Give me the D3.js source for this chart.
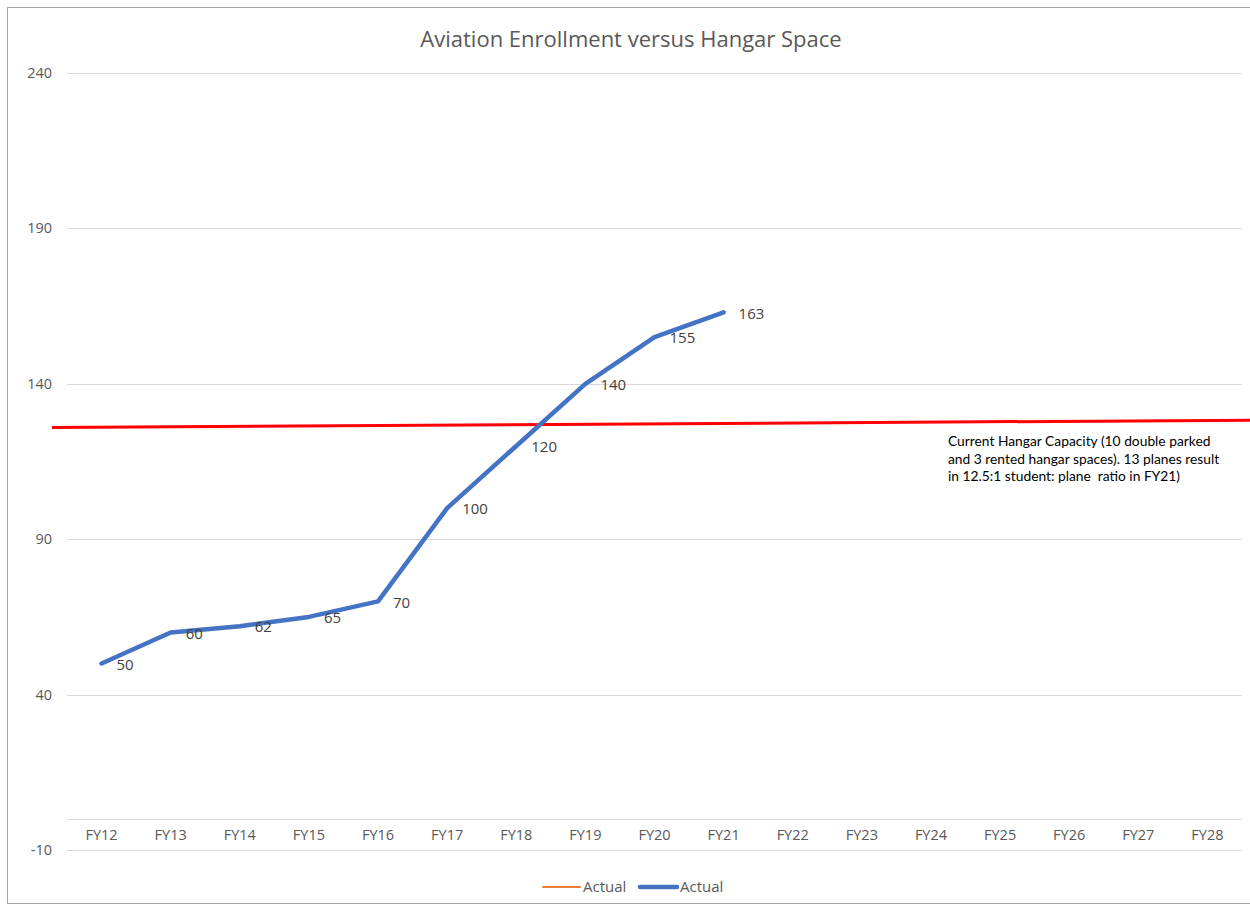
<!DOCTYPE html>
<html>
<head>
<meta charset="utf-8">
<script src="https://cdn.jsdelivr.net/npm/d3@7/dist/d3.min.js"></script>
<style>
  body { margin: 0; background: #fff; }
  svg { display: block; font-family: "Open Sans", "Noto Sans", sans-serif; }
  .note { white-space: pre; }
</style>
</head>
<body>
<svg id="chart" width="1250" height="909"></svg>
<script>
// data
var years = ["FY12", "FY13", "FY14", "FY15", "FY16", "FY17", "FY18", "FY19", "FY20",
             "FY21", "FY22", "FY23", "FY24", "FY25", "FY26", "FY27", "FY28"];
var enrollment = [50, 60, 62, 65, 70, 100, 120, 140, 155, 163];
var yTicks = [-10, 40, 90, 140, 190, 240];
var capacityLine = [125.9, 128.3]; // hand-drawn red line, left and right ends
var capacityNote = [
  "Current Hangar Capacity (10 double parked",
  "and 3 rented hangar spaces). 13 planes result",
  "in 12.5:1 student: plane  ratio in FY21)"
];
var legendItems = [
  { name: "Actual", color: "#ED7D31", width: 2 },
  { name: "Actual", color: "#4472C4", width: 4.5 }
];

var svg = d3.select("#chart");
var width = 1250, height = 909;
var margin = { top: 73, right: 8, bottom: 59, left: 67 };

// outer chart border
svg.append("rect")
  .attr("x", 7.5).attr("y", 7.5)
  .attr("width", width + 10).attr("height", height - 13)
  .attr("fill", "none")
  .attr("stroke", "#a6a6a6")
  .attr("stroke-width", 1);

var x = d3.scaleBand()
  .domain(years)
  .range([margin.left, width - margin.right]);

var y = d3.scaleLinear()
  .domain([-10, 240])
  .range([height - margin.bottom, margin.top]);

// title
svg.append("text")
  .attr("x", 631).attr("y", 47)
  .attr("text-anchor", "middle")
  .attr("font-size", 22)
  .attr("fill", "#595959")
  .text("Aviation Enrollment versus Hangar Space");

// gridlines
svg.append("g")
  .selectAll("line")
  .data(yTicks)
  .enter().append("line")
  .attr("x1", margin.left).attr("x2", width - margin.right)
  .attr("y1", d => Math.round(y(d)) + 0.5)
  .attr("y2", d => Math.round(y(d)) + 0.5)
  .attr("stroke", "#d9d9d9")
  .attr("stroke-width", 1);

// y labels
svg.append("g")
  .selectAll("text")
  .data(yTicks)
  .enter().append("text")
  .attr("x", 52)
  .attr("y", d => y(d))
  .attr("dy", "0.35em")
  .attr("text-anchor", "end")
  .attr("font-size", 14.5)
  .attr("fill", "#595959")
  .text(d => d);

// category axis crosses at 0
svg.append("line")
  .attr("x1", margin.left).attr("x2", width - margin.right)
  .attr("y1", Math.round(y(0)) + 0.5).attr("y2", Math.round(y(0)) + 0.5)
  .attr("stroke", "#d9d9d9")
  .attr("stroke-width", 1);

svg.append("g")
  .selectAll("text")
  .data(years)
  .enter().append("text")
  .attr("x", d => x(d) + x.bandwidth() / 2)
  .attr("y", (y(0) + y(-10)) / 2)
  .attr("dy", "0.35em")
  .attr("text-anchor", "middle")
  .attr("font-size", 14.5)
  .attr("fill", "#595959")
  .text(d => d);

// capacity line (drawn shape, extends past plot on both sides)
var capX = d3.scaleLinear().domain([0, 1]).range([margin.left - 15, width + 2]);
svg.append("line")
  .attr("x1", capX(0)).attr("x2", capX(1))
  .attr("y1", y(capacityLine[0])).attr("y2", y(capacityLine[1]))
  .attr("stroke", "#ff0000")
  .attr("stroke-width", 3);

svg.append("g")
  .selectAll("text")
  .data(capacityNote)
  .enter().append("text")
  .attr("class", "note")
  .attr("x", 948)
  .attr("y", (d, i) => 446 + i * 17.5)
  .attr("font-family", "Lato, 'Open Sans', sans-serif")
  .attr("font-size", 13.8)
  .attr("fill", "#000")
  .text(d => d);

// enrollment line
var line = d3.line()
  .x((d, i) => x(years[i]) + x.bandwidth() / 2)
  .y(d => y(d));

svg.append("path")
  .datum(enrollment)
  .attr("d", line)
  .attr("fill", "none")
  .attr("stroke", "#4472C4")
  .attr("stroke-width", 4.5)
  .attr("stroke-linejoin", "round")
  .attr("stroke-linecap", "round");

svg.append("g")
  .selectAll("text")
  .data(enrollment)
  .enter().append("text")
  .attr("x", (d, i) => x(years[i]) + x.bandwidth() / 2 + 15)
  .attr("y", d => y(d) + 1)
  .attr("dy", "0.35em")
  .attr("font-size", 15)
  .attr("fill", "#404040")
  .text(d => d);

// legend
var legend = svg.append("g").attr("transform", "translate(543,887)");
var lx = 0;
legendItems.forEach(function(item) {
  legend.append("line")
    .attr("x1", lx).attr("x2", lx + 37)
    .attr("y1", 0).attr("y2", 0)
    .attr("stroke", item.color)
    .attr("stroke-width", item.width)
    .attr("stroke-linecap", "round");
  legend.append("text")
    .attr("x", lx + 40).attr("y", 0)
    .attr("dy", "0.35em")
    .attr("font-size", 15)
    .attr("fill", "#595959")
    .text(item.name);
  lx += 97;
});
</script>
</body>
</html>
